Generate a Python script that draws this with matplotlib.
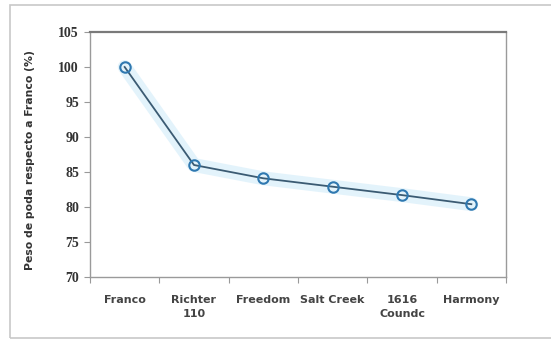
import matplotlib
matplotlib.use("Agg")
import matplotlib.pyplot as plt
from matplotlib.patches import Rectangle

categories = ["Franco", "Richter\n110", "Freedom", "Salt Creek", "1616\nCoundc", "Harmony"]
values = [100.0, 86.0, 84.1, 82.9, 81.7, 80.4]
y_ticks = [70, 75, 80, 85, 90, 95, 100, 105]
y_label = "Peso de poda respecto a Franco (%)"

W, H = 551, 339
fig = plt.figure(figsize=(W / 100, H / 100), dpi=100)
fig.patch.set_facecolor("white")

# outer chart border
fig.patches.append(Rectangle((10 / W, 1 - 338 / H), 560 / W, 333 / H,
                             transform=fig.transFigure, fill=False,
                             edgecolor="#c8c8c8", linewidth=1.2))

ax = fig.add_axes([90 / W, 1 - 277 / H, 416 / W, 245 / H])
x = list(range(len(categories)))

# soft glow under the line
ax.plot(x, values, color="#cdeaf9", linewidth=10, alpha=0.55, solid_capstyle="round", zorder=2)
ax.plot(x, values, color="#3b5b73", linewidth=1.3, zorder=3)
ax.plot(x, values, linestyle="none", marker="o", markersize=7.5,
        markerfacecolor="none", markeredgecolor="#2f78b0", markeredgewidth=1.5, zorder=4)

ax.set_xlim(-0.5, len(categories) - 0.5)
ax.set_ylim(70, 105)
ax.set_yticks(y_ticks)
ax.set_yticklabels([str(v) for v in y_ticks], fontsize=10, fontweight="bold",
                   color="#333333", family="Liberation Serif")
ax.set_xticks([i - 0.5 for i in range(len(categories) + 1)], minor=False)
ax.set_xticklabels([])
ax.set_xticks(x, minor=True)
ax.set_xticklabels(categories, minor=True, fontsize=8, fontweight="bold",
                   color="#444444", linespacing=1.45)
ax.tick_params(axis="x", which="minor", length=0, pad=13)
ax.tick_params(axis="x", which="major", length=4, color="#999999", direction="out")
ax.tick_params(axis="y", length=4, color="#999999", direction="out", pad=4)

for side in ["left", "bottom", "right"]:
    ax.spines[side].set_color("#9a9a9a")
    ax.spines[side].set_linewidth(1.0)
ax.spines["top"].set_color("#7a7a7a")
ax.spines["top"].set_linewidth(1.6)

fig.text(30 / W, 1 - 160 / H, y_label, rotation=90, ha="center", va="center",
         fontsize=7.8, fontweight="bold", color="#333333")

fig.savefig("out.png", dpi=100, facecolor="white")
